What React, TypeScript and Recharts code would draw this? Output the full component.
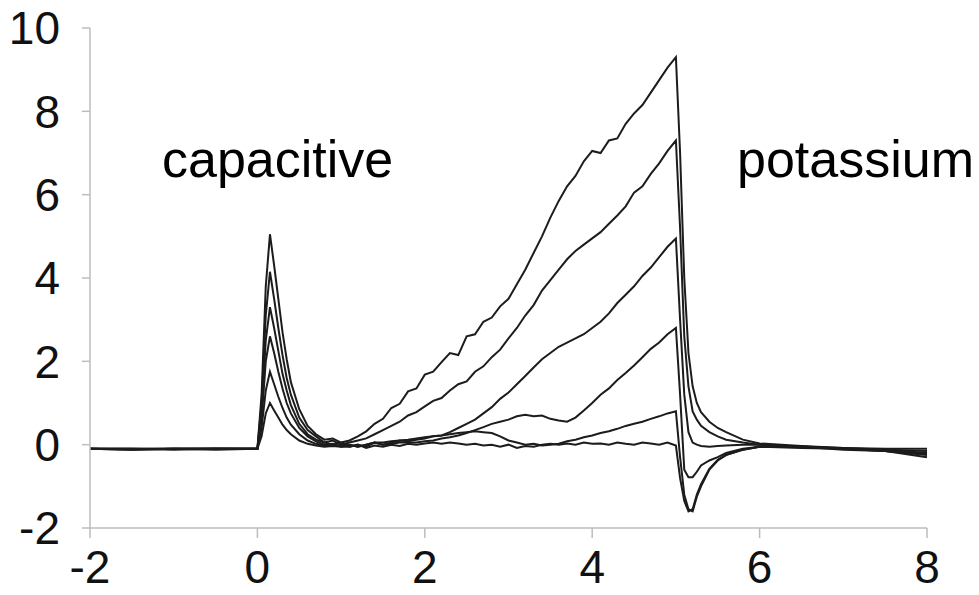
import { LineChart, Line, XAxis, YAxis } from 'recharts';

// time axis (ms), denser around the transients
const time = [
  -2, -1.5, -1, -0.5, 0, 0.05, 0.1, 0.15, 0.2, 0.25, 0.3, 0.35, 0.4, 0.5, 0.6, 0.7, 0.8, 0.9, 1.0,
  1.1, 1.2, 1.3, 1.4, 1.5, 1.6, 1.7, 1.8, 1.9, 2.0, 2.1, 2.2, 2.3, 2.4, 2.5, 2.6, 2.7, 2.8, 2.9, 3.0,
  3.1, 3.2, 3.3, 3.4, 3.5, 3.6, 3.7, 3.8, 3.9, 4.0, 4.1, 4.2, 4.3, 4.4, 4.5, 4.6, 4.7, 4.8, 4.9, 5.0,
  5.05, 5.1, 5.15, 5.2, 5.25, 5.3, 5.4, 5.5, 5.6, 5.8, 6.0, 6.5, 7.0, 7.5, 8.0,
];

const traceA = [
  -0.1, -0.12, -0.1, -0.09, -0.1, 1.2, 3.8, 5.05, 4.3, 3.5, 2.7, 2.05, 1.5, 0.85, 0.45, 0.25, 0.12, 0.15, 0.05,
  0.1, 0.2, 0.32, 0.5, 0.62, 0.88, 0.98, 1.28, 1.35, 1.68, 1.75, 1.98, 2.2, 2.15, 2.6, 2.65, 2.95, 3.05, 3.32, 3.5,
  3.85, 4.2, 4.6, 5.0, 5.45, 5.85, 6.2, 6.45, 6.8, 7.05, 7.0, 7.3, 7.35, 7.7, 7.95, 8.15, 8.45, 8.75, 9.05, 9.3,
  7.0, 4.0, 2.2, 1.4, 1.0, 0.78, 0.55, 0.4, 0.3, 0.12, 0.03, -0.03, -0.08, -0.12, -0.15,
];

const traceB = [
  -0.1, -0.11, -0.1, -0.1, -0.1, 1.0, 3.1, 4.15, 3.5, 2.8, 2.15, 1.6, 1.2, 0.65, 0.35, 0.2, 0.05, 0.1, 0.0,
  0.05, 0.1, 0.15, 0.25, 0.35, 0.45, 0.55, 0.7, 0.78, 0.92, 1.05, 1.12, 1.3, 1.45, 1.52, 1.75, 1.88, 2.1, 2.28, 2.55,
  2.8, 3.1, 3.35, 3.7, 3.95, 4.2, 4.45, 4.65, 4.8, 4.95, 5.1, 5.3, 5.5, 5.72, 6.05, 6.2, 6.5, 6.75, 7.05, 7.3,
  5.2, 2.6, 1.4, 0.8, 0.6, 0.45, 0.3, 0.2, 0.12, 0.05, 0.0, -0.05, -0.1, -0.15, -0.22,
];

const traceC = [
  -0.1, -0.1, -0.12, -0.1, -0.1, 0.8, 2.5, 3.3, 2.8, 2.25, 1.7, 1.3, 0.95, 0.5, 0.25, 0.12, 0.05, 0.0, 0.05,
  -0.05, 0.0, -0.05, 0.05, 0.0, 0.05, 0.1, 0.08, 0.12, 0.15, 0.2, 0.22, 0.3, 0.4, 0.5, 0.6, 0.75, 0.9, 1.1, 1.25,
  1.45, 1.65, 1.85, 2.05, 2.2, 2.35, 2.45, 2.55, 2.65, 2.8, 2.95, 3.15, 3.4, 3.6, 3.8, 4.05, 4.25, 4.5, 4.75, 4.95,
  3.0, 1.2, 0.3, 0.05, 0.0, -0.03, -0.05, -0.03, -0.02, 0.0, 0.0, -0.05, -0.08, -0.1, -0.1,
];

const traceD = [
  -0.1, -0.1, -0.1, -0.12, -0.1, 0.6, 2.0, 2.6, 2.2, 1.75, 1.35, 1.0, 0.75, 0.4, 0.2, 0.08, 0.0, 0.02, -0.05,
  0.0, -0.05, 0.0, 0.05, 0.0, 0.02, 0.05, 0.05, 0.05, 0.08, 0.1, 0.15, 0.18, 0.22, 0.28, 0.35, 0.42, 0.5, 0.55, 0.6,
  0.68, 0.72, 0.68, 0.7, 0.62, 0.58, 0.55, 0.65, 0.82, 1.0, 1.2, 1.35, 1.55, 1.72, 1.9, 2.1, 2.3, 2.45, 2.65, 2.8,
  1.2, -0.6, -0.78, -0.78, -0.65, -0.5, -0.38, -0.3, -0.2, -0.1, -0.05, -0.08, -0.1, -0.15, -0.25,
];

const traceE = [
  -0.1, -0.12, -0.1, -0.1, -0.1, 0.4, 1.3, 1.75, 1.45, 1.15, 0.88, 0.65, 0.48, 0.25, 0.1, 0.02, -0.02, 0.0, -0.03,
  0.0, -0.05, 0.0, 0.05, 0.05, 0.08, 0.1, 0.12, 0.15, 0.18, 0.2, 0.22, 0.25, 0.28, 0.3, 0.32, 0.3, 0.28, 0.2, 0.1,
  0.05, 0.0, 0.02, -0.02, 0.0, 0.02, 0.08, 0.12, 0.18, 0.22, 0.28, 0.32, 0.38, 0.45, 0.5, 0.55, 0.62, 0.68, 0.75, 0.8,
  -0.3, -1.2, -1.55, -1.6, -1.25, -1.0, -0.6, -0.38, -0.25, -0.12, -0.05, -0.05, -0.12, -0.15, -0.3,
];

const traceF = [
  -0.1, -0.1, -0.1, -0.1, -0.1, 0.2, 0.75, 1.0, 0.82, 0.65, 0.48, 0.35, 0.25, 0.1, 0.02, -0.02, -0.05, -0.03, -0.05,
  -0.05, 0.0, -0.08, -0.02, -0.05, 0.0, -0.03, 0.02, 0.0, 0.03, 0.05, 0.02, 0.05, 0.03, 0.0, 0.02, -0.02, 0.0, -0.05, 0.0,
  -0.08, -0.03, -0.05, 0.0, 0.02, 0.0, 0.03, 0.0, 0.05, 0.02, 0.03, 0.0, 0.05, 0.02, 0.0, 0.05, 0.03, 0.0, 0.05, -0.02,
  -0.8, -1.35, -1.6, -1.55, -1.2, -0.95, -0.58, -0.36, -0.24, -0.12, -0.05, -0.04, -0.1, -0.12, -0.2,
];

const xTicks = [-2, 0, 2, 4, 6, 8];
const yTicks = [-2, 0, 2, 4, 6, 8, 10];
const keys = ['a', 'b', 'c', 'd', 'e', 'f'];

const rows = time.map((t, i) => ({
  t,
  a: traceA[i],
  b: traceB[i],
  c: traceC[i],
  d: traceD[i],
  e: traceE[i],
  f: traceF[i],
}));

const font = '"Liberation Sans", Arial, sans-serif';
const tickStyle = { fontSize: 46, fill: '#111', fontFamily: font };
const axisGray = '#bdbdbd';

export default function App() {
  return (
    <div style={{ position: 'absolute', left: 0, top: 0, width: 979, height: 595, background: '#fff' }}>
      <LineChart width={979} height={595} data={rows} margin={{ top: 28, right: 52, bottom: 0, left: 0 }}>
        <XAxis
          dataKey="t"
          type="number"
          domain={[-2, 8]}
          ticks={xTicks}
          interval={0}
          height={67}
          tickSize={10}
          tickMargin={12}
          axisLine={{ stroke: axisGray, strokeWidth: 1.5 }}
          tickLine={{ stroke: axisGray, strokeWidth: 1.5 }}
          tick={tickStyle}
        />
        <YAxis
          type="number"
          domain={[-2, 10]}
          ticks={yTicks}
          interval={0}
          width={90}
          tickSize={8}
          tickMargin={22}
          axisLine={{ stroke: axisGray, strokeWidth: 1.5 }}
          tickLine={{ stroke: axisGray, strokeWidth: 1.5 }}
          tick={tickStyle}
        />
        {keys.map((k) => (
          <Line
            key={k}
            dataKey={k}
            type="linear"
            stroke="#1c1c1c"
            strokeWidth={2}
            dot={false}
            activeDot={false}
            isAnimationActive={false}
          />
        ))}
      </LineChart>
      <svg width={979} height={595} style={{ position: 'absolute', left: 0, top: 0, pointerEvents: 'none' }}>
        <text x={162} y={177} fontSize={52} fontFamily={font} fill="#000">capacitive</text>
        <text x={737} y={177} fontSize={52} fontFamily={font} fill="#000">potassium</text>
      </svg>
    </div>
  );
}
